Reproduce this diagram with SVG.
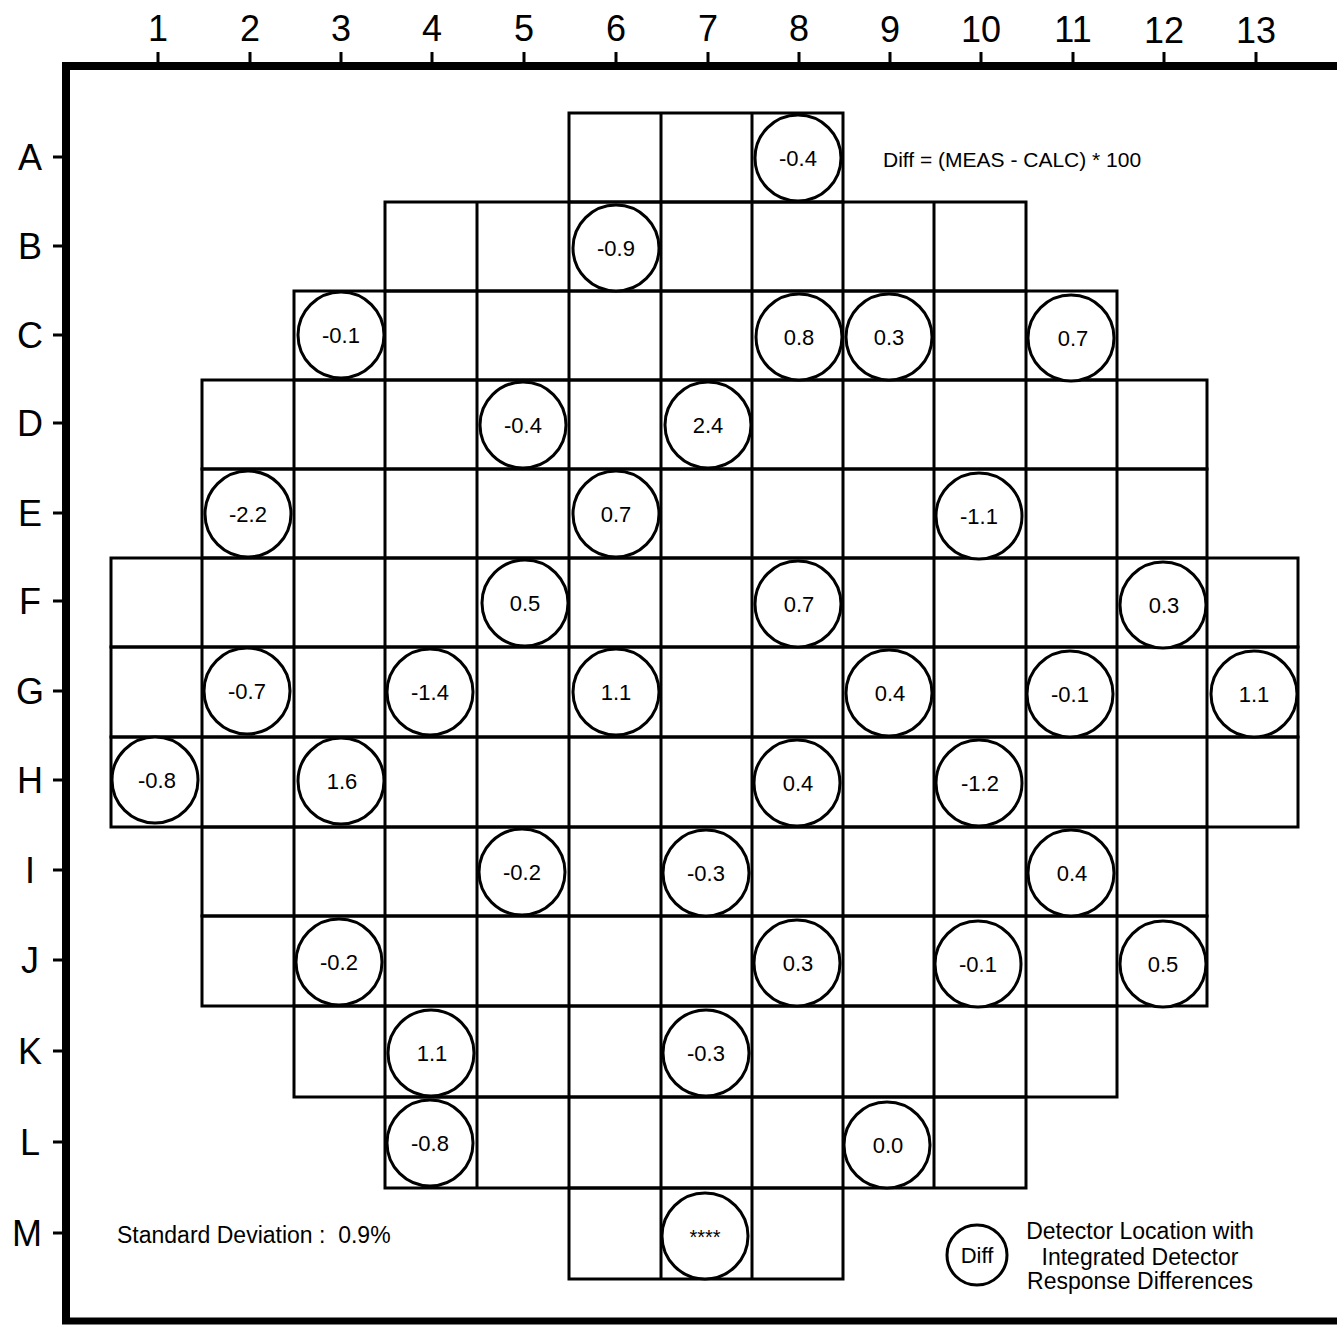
<svg xmlns="http://www.w3.org/2000/svg" width="1337" height="1325" viewBox="0 0 1337 1325">
<style>
text{font-family:"Liberation Sans",Arial,sans-serif;fill:#000}
.ax{font-size:36px;text-anchor:middle}
.rl{font-size:36px;text-anchor:middle}
.grid{fill:none;stroke:#000;stroke-width:3}
.tick{stroke:#000;stroke-width:3}
.det circle{fill:#fff;stroke:#000;stroke-width:3}
.det text{font-size:22px;text-anchor:middle}
.note{font-size:21px}
.leg{font-size:23px;text-anchor:middle}
</style>
<rect width="1337" height="1325" fill="#fff"/>
<g id="frame">
<path d="M66 1321 V66 H1345" fill="none" stroke="#000" stroke-width="8"/>
<path d="M62 1321 H1345" fill="none" stroke="#000" stroke-width="7"/>
</g>
<g id="column-axis">
<path class="tick" d="M158 52V63M250 52V63M341 52V63M432 52V63M524 52V63M616 52V63M708 52V63M799 52V63M890 52V63M981 52V63M1073 52V63M1164 52V63M1256 52V63"/>
<text class="ax" x="158" y="41">1</text>
<text class="ax" x="250" y="41">2</text>
<text class="ax" x="341" y="41">3</text>
<text class="ax" x="432" y="41">4</text>
<text class="ax" x="524" y="41">5</text>
<text class="ax" x="616" y="41">6</text>
<text class="ax" x="708" y="41">7</text>
<text class="ax" x="799" y="41">8</text>
<text class="ax" x="890" y="42">9</text>
<text class="ax" x="981" y="42">10</text>
<text class="ax" x="1073" y="42">11</text>
<text class="ax" x="1164" y="43">12</text>
<text class="ax" x="1256" y="43">13</text>
</g>
<g id="row-axis">
<path class="tick" d="M53 157H64M53 246H64M53 335H64M53 423H64M53 513H64M53 601H64M53 691H64M53 780H64M53 870H64M53 960H64M53 1051H64M53 1142H64M53 1233H64"/>
<text class="rl" x="30" y="170">A</text>
<text class="rl" x="30" y="259">B</text>
<text class="rl" x="30" y="348">C</text>
<text class="rl" x="30" y="436">D</text>
<text class="rl" x="30" y="526">E</text>
<text class="rl" x="30" y="614">F</text>
<text class="rl" x="30" y="704">G</text>
<text class="rl" x="30" y="793">H</text>
<text class="rl" x="30" y="883">I</text>
<text class="rl" x="30" y="973">J</text>
<text class="rl" x="30" y="1064">K</text>
<text class="rl" x="30" y="1155">L</text>
<text class="rl" x="27" y="1246">M</text>
</g>
<g id="core-grid">
<path class="grid" d="M569 113H843V202H569ZM661 113V202M752 113V202"/>
<path class="grid" d="M385 202H1026V291H385ZM477 202V291M569 202V291M661 202V291M752 202V291M843 202V291M934 202V291"/>
<path class="grid" d="M294 291H1117V380H294ZM385 291V380M477 291V380M569 291V380M661 291V380M752 291V380M843 291V380M934 291V380M1026 291V380"/>
<path class="grid" d="M202 380H1207V469H202ZM294 380V469M385 380V469M477 380V469M569 380V469M661 380V469M752 380V469M843 380V469M934 380V469M1026 380V469M1117 380V469"/>
<path class="grid" d="M202 469H1207V558H202ZM294 469V558M385 469V558M477 469V558M569 469V558M661 469V558M752 469V558M843 469V558M934 469V558M1026 469V558M1117 469V558"/>
<path class="grid" d="M111 558H1298V647H111ZM202 558V647M294 558V647M385 558V647M477 558V647M569 558V647M661 558V647M752 558V647M843 558V647M934 558V647M1026 558V647M1117 558V647M1207 558V647"/>
<path class="grid" d="M111 647H1298V737H111ZM202 647V737M294 647V737M385 647V737M477 647V737M569 647V737M661 647V737M752 647V737M843 647V737M934 647V737M1026 647V737M1117 647V737M1207 647V737"/>
<path class="grid" d="M111 737H1298V827H111ZM202 737V827M294 737V827M385 737V827M477 737V827M569 737V827M661 737V827M752 737V827M843 737V827M934 737V827M1026 737V827M1117 737V827M1207 737V827"/>
<path class="grid" d="M202 827H1207V916H202ZM294 827V916M385 827V916M477 827V916M569 827V916M661 827V916M752 827V916M843 827V916M934 827V916M1026 827V916M1117 827V916"/>
<path class="grid" d="M202 916H1207V1006H202ZM294 916V1006M385 916V1006M477 916V1006M569 916V1006M661 916V1006M752 916V1006M843 916V1006M934 916V1006M1026 916V1006M1117 916V1006"/>
<path class="grid" d="M294 1006H1117V1097H294ZM385 1006V1097M477 1006V1097M569 1006V1097M661 1006V1097M752 1006V1097M843 1006V1097M934 1006V1097M1026 1006V1097"/>
<path class="grid" d="M385 1097H1026V1188H385ZM477 1097V1188M569 1097V1188M661 1097V1188M752 1097V1188M843 1097V1188M934 1097V1188"/>
<path class="grid" d="M569 1188H843V1279H569ZM661 1188V1279M752 1188V1279"/>
</g>
<g id="detectors">
<g class="det" id="A8"><circle cx="798" cy="158" r="43"/><text x="798" y="166">-0.4</text></g>
<g class="det" id="B6"><circle cx="616" cy="248" r="43"/><text x="616" y="256">-0.9</text></g>
<g class="det" id="C3"><circle cx="341" cy="335" r="43"/><text x="341" y="343">-0.1</text></g>
<g class="det" id="C8"><circle cx="799" cy="337" r="43"/><text x="799" y="345">0.8</text></g>
<g class="det" id="C9"><circle cx="889" cy="337" r="43"/><text x="889" y="345">0.3</text></g>
<g class="det" id="C11"><circle cx="1071" cy="338" r="43"/><text x="1073" y="346">0.7</text></g>
<g class="det" id="D5"><circle cx="523" cy="425" r="43"/><text x="523" y="433">-0.4</text></g>
<g class="det" id="D7"><circle cx="708" cy="425" r="43"/><text x="708" y="433">2.4</text></g>
<g class="det" id="E2"><circle cx="248" cy="514" r="43"/><text x="248" y="522">-2.2</text></g>
<g class="det" id="E6"><circle cx="616" cy="514" r="43"/><text x="616" y="522">0.7</text></g>
<g class="det" id="E10"><circle cx="979" cy="516" r="43"/><text x="979" y="524">-1.1</text></g>
<g class="det" id="F5"><circle cx="525" cy="603" r="43"/><text x="525" y="611">0.5</text></g>
<g class="det" id="F8"><circle cx="798" cy="604" r="43"/><text x="799" y="612">0.7</text></g>
<g class="det" id="F12"><circle cx="1163" cy="605" r="43"/><text x="1164" y="613">0.3</text></g>
<g class="det" id="G2"><circle cx="247" cy="691" r="43"/><text x="247" y="699">-0.7</text></g>
<g class="det" id="G4"><circle cx="430" cy="692" r="43"/><text x="430" y="700">-1.4</text></g>
<g class="det" id="G6"><circle cx="616" cy="692" r="43"/><text x="616" y="700">1.1</text></g>
<g class="det" id="G9"><circle cx="889" cy="693" r="43"/><text x="890" y="701">0.4</text></g>
<g class="det" id="G11"><circle cx="1070" cy="694" r="43"/><text x="1070" y="702">-0.1</text></g>
<g class="det" id="G13"><circle cx="1254" cy="694" r="43"/><text x="1254" y="702">1.1</text></g>
<g class="det" id="H1"><circle cx="155" cy="780" r="43"/><text x="157" y="788">-0.8</text></g>
<g class="det" id="H3"><circle cx="341" cy="781" r="43"/><text x="342" y="789">1.6</text></g>
<g class="det" id="H8"><circle cx="797" cy="783" r="43"/><text x="798" y="791">0.4</text></g>
<g class="det" id="H10"><circle cx="979" cy="783" r="43"/><text x="980" y="791">-1.2</text></g>
<g class="det" id="I5"><circle cx="522" cy="872" r="43"/><text x="522" y="880">-0.2</text></g>
<g class="det" id="I7"><circle cx="706" cy="873" r="43"/><text x="706" y="881">-0.3</text></g>
<g class="det" id="I11"><circle cx="1071" cy="873" r="43"/><text x="1072" y="881">0.4</text></g>
<g class="det" id="J3"><circle cx="339" cy="962" r="43"/><text x="339" y="970">-0.2</text></g>
<g class="det" id="J8"><circle cx="797" cy="963" r="43"/><text x="798" y="971">0.3</text></g>
<g class="det" id="J10"><circle cx="978" cy="964" r="43"/><text x="978" y="972">-0.1</text></g>
<g class="det" id="J12"><circle cx="1163" cy="964" r="43"/><text x="1163" y="972">0.5</text></g>
<g class="det" id="K4"><circle cx="431" cy="1053" r="43"/><text x="432" y="1061">1.1</text></g>
<g class="det" id="K7"><circle cx="706" cy="1053" r="43"/><text x="706" y="1061">-0.3</text></g>
<g class="det" id="L4"><circle cx="430" cy="1143" r="43"/><text x="430" y="1151">-0.8</text></g>
<g class="det" id="L9"><circle cx="887" cy="1145" r="43"/><text x="888" y="1153">0.0</text></g>
<g class="det" id="M7"><circle cx="705" cy="1236" r="43"/><text x="705" y="1244" style="font-size:20px">****</text></g>
</g>
<g id="formula"><text class="note" x="883" y="167">Diff = (MEAS - CALC) * 100</text></g>
<g id="stddev"><text x="117" y="1243" style="font-size:23px;white-space:pre" xml:space="preserve">Standard Deviation :  0.9%</text></g>
<g id="legend">
<g class="det"><circle cx="977" cy="1255" r="30"/><text x="977" y="1263" style="font-size:22px">Diff</text></g>
<text class="leg" x="1140" y="1239">Detector Location with</text>
<text class="leg" x="1140" y="1265">Integrated Detector</text>
<text class="leg" x="1140" y="1289">Response Differences</text>
</g>
</svg>
